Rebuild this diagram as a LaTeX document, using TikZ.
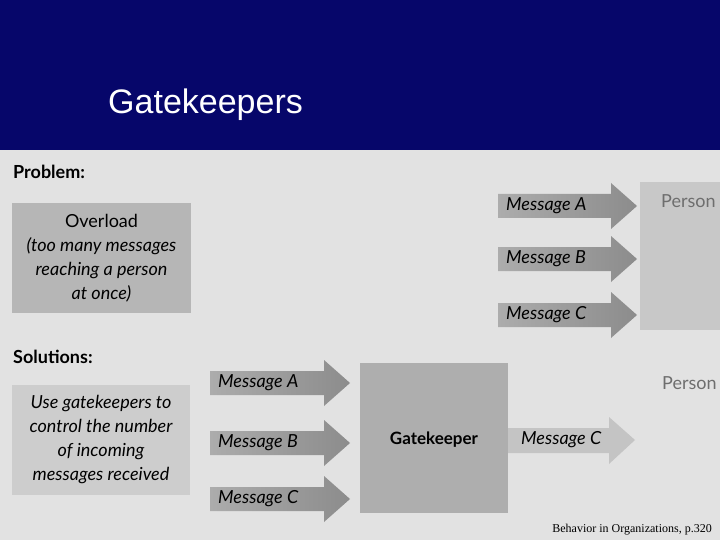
\documentclass[tikz,border=0pt]{standalone}
\usepackage{fontspec}
\setmainfont{Lato}
\newfontfamily\titlefont{Liberation Sans}
\newfontfamily\citefont{Liberation Serif}
\definecolor{navy}{RGB}{6,6,106}
\definecolor{bgray}{RGB}{226,226,226}
\definecolor{boxA}{RGB}{182,182,182}
\definecolor{boxB}{RGB}{205,205,205}
\definecolor{arrL}{RGB}{172,172,172}
\definecolor{arrR}{RGB}{140,140,140}
\definecolor{gkbox}{RGB}{174,174,174}
\definecolor{outarr}{RGB}{196,196,196}
\definecolor{persbox}{RGB}{200,200,200}
\definecolor{perstext}{RGB}{110,110,110}
\tikzset{
  heading/.style={anchor=west, font=\fontsize{18}{20}\selectfont\bfseries, inner sep=0pt},
  boxtext/.style={align=center, font=\fontsize{18}{24}\selectfont\itshape, inner sep=0pt},
  msgtext/.style={anchor=west, font=\fontsize{18}{20}\selectfont\itshape, inner sep=0pt},
  perslabel/.style={anchor=west, text=perstext, font=\fontsize{18}{20}\selectfont, inner sep=0pt}
}
\newcommand{\msgarrow}[5]{%
  \shade[left color=arrL, right color=arrR] (#2,#4-12) -- (#3-26,#4-12) -- (#3-26,#4-23) -- (#3,#4) -- (#3-26,#4+23) -- (#3-26,#4+12) -- (#2,#4+12) -- cycle;
  \node[msgtext] (#1) at (#2+8,#4) {#5};}
\begin{document}
\begin{tikzpicture}[x=1pt,y=-1pt]
\useasboundingbox (0,0) rectangle (720,540);
\clip (0,0) rectangle (720,540);
% background
\fill[navy] (0,0) rectangle (720,150);
\fill[bgray] (0,150) rectangle (720,540);
\node[anchor=west, text=white, font=\titlefont\fontsize{34}{36}\selectfont, inner sep=0pt] (title) at (108,105) {Gatekeepers};
% Problem
\node[heading] (problem) at (13,172) {Problem:};
\fill[boxA] (12,203) rectangle (191,313);
\node[boxtext] (overload) at (101.5,258) {\upshape Overload\\(too many messages\\reaching a person\\at once)};
\fill[persbox] (640,182) rectangle (720,330);
\node[perslabel] (person1) at (661,201) {Person};
\msgarrow{pA}{498}{637}{206}{Message A}
\msgarrow{pB}{498}{637}{259}{Message B}
\msgarrow{pC}{498}{637}{315}{Message C}
% Solutions
\node[heading] (solutions) at (13,357) {Solutions:};
\fill[boxB] (12,385) rectangle (190,495);
\node[boxtext] (usegk) at (101,440) {Use gatekeepers to\\control the number\\of incoming\\messages received};
\msgarrow{sA}{210}{350}{383}{Message A}
\msgarrow{sB}{210}{350}{443}{Message B}
\msgarrow{sC}{210}{350}{499}{Message C}
\fill[gkbox] (360,363) rectangle (508,513);
\node[font=\fontsize{17}{20}\selectfont\bfseries, inner sep=0pt] (gk) at (434,440) {Gatekeeper};
\fill[outarr] (508,428) -- (609,428) -- (609,417) -- (635,440) -- (609,464) -- (609,453) -- (508,453) -- cycle;
\node[msgtext] (gout) at (521,440) {Message C};
\node[perslabel] (person2) at (662,383) {Person};
% citation
\node[anchor=south east, font=\citefont\fontsize{12}{14}\selectfont, inner sep=0pt] (cite) at (712,535) {Behavior in Organizations, p.320};
\end{tikzpicture}
\end{document}
